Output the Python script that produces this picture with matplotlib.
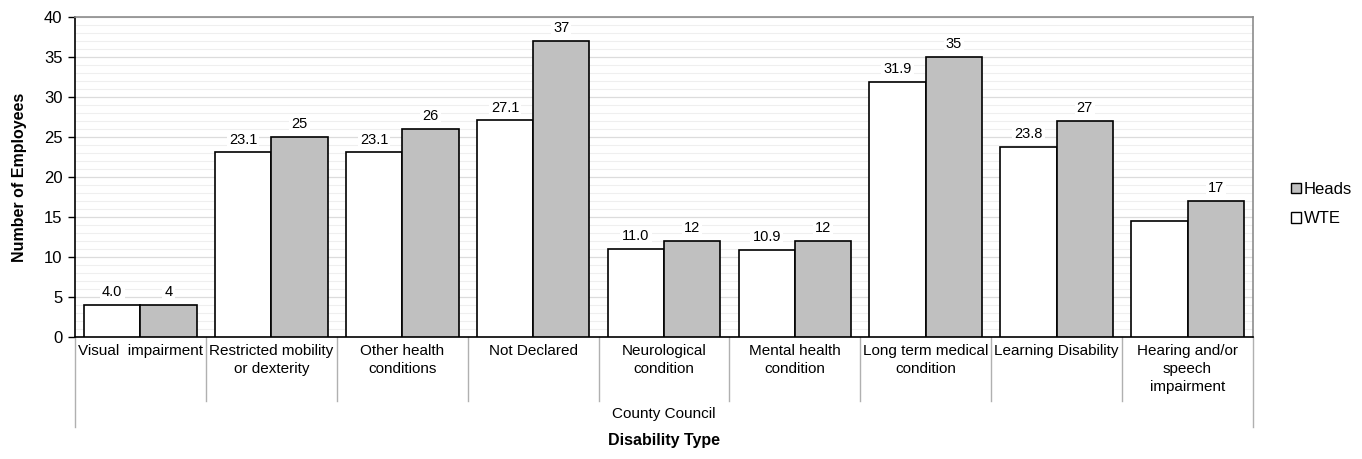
import matplotlib.pyplot as plt
import numpy as np
from matplotlib.lines import Line2D
from matplotlib.patches import Patch

plt.rcParams['font.family'] = ['Liberation Sans', 'DejaVu Sans']

categories = [
    "Visual  impairment",
    "Restricted mobility\nor dexterity",
    "Other health\nconditions",
    "Not Declared",
    "Neurological\ncondition",
    "Mental health\ncondition",
    "Long term medical\ncondition",
    "Learning Disability",
    "Hearing and/or\nspeech\nimpairment",
]
wte = [4.0, 23.1, 23.1, 27.1, 11.0, 10.9, 31.9, 23.8, 14.5]
heads = [4, 25, 26, 37, 12, 12, 35, 27, 17]
# the last WTE bar carries no value label
wte_labels = ["4.0", "23.1", "23.1", "27.1", "11.0", "10.9", "31.9", "23.8", None]
heads_labels = [str(v) for v in heads]
group_label = "County Council"

fig = plt.figure(figsize=(13.62, 4.59), dpi=100)
ax = fig.add_axes([75 / 1362, 1 - 337 / 459, 1178 / 1362, 320 / 459])

n = len(categories)
x = np.arange(n)
w = 0.43

ax.bar(x - w / 2, wte, w, color="white", edgecolor="black", linewidth=1.2, zorder=3)
ax.bar(x + w / 2, heads, w, color="#c0c0c0", edgecolor="black", linewidth=1.2, zorder=3)

box = dict(facecolor="white", edgecolor="none", pad=1.5)
for i in range(n):
    if wte_labels[i] is not None:
        ax.annotate(wte_labels[i], (x[i] - w / 2, wte[i]), xytext=(0, 4),
                    textcoords="offset points", ha="center", va="bottom",
                    fontsize=10.5, bbox=box, zorder=4)
    ax.annotate(heads_labels[i], (x[i] + w / 2, heads[i]), xytext=(0, 4),
                textcoords="offset points", ha="center", va="bottom",
                fontsize=10.5, bbox=box, zorder=4)

ax.set_xlim(-0.5, n - 0.5)
ax.set_ylim(0, 40)
ax.set_yticks(range(0, 41, 5))
ax.set_yticks(range(0, 41, 1), minor=True)
ax.grid(axis="y", which="major", color="#dcdcdc", linewidth=0.9, zorder=0)
ax.grid(axis="y", which="minor", color="#efefef", linewidth=0.8, zorder=0)
ax.tick_params(axis="y", which="major", labelsize=12, length=5, width=1,
               direction="out", pad=4)
ax.tick_params(axis="y", which="minor", length=0)
ax.set_xticks([])

for s in ["left", "bottom"]:
    ax.spines[s].set_color("black")
    ax.spines[s].set_linewidth(1.2)
for s in ["top", "right"]:
    ax.spines[s].set_color("#8c8c8c")
    ax.spines[s].set_linewidth(1.2)

# category labels and separators below the axis
trans = ax.get_xaxis_transform()
for i, name in enumerate(categories):
    ax.text(x[i], -0.022, name, transform=trans, ha="center", va="top",
            fontsize=11, linespacing=1.38)
for b in np.arange(n + 1) - 0.5:
    outer = b in (-0.5, n - 0.5)
    y1 = -0.28 if outer else -0.2
    ax.add_line(Line2D([b, b], [0, y1], transform=trans, color="#b0b0b0",
                       linewidth=1, clip_on=False))
ax.text((n - 1) / 2, -0.24, group_label, transform=trans, ha="center",
        va="center", fontsize=11)

fig.text(ax.get_position().x0 + ax.get_position().width / 2, 1 - 441 / 459,
         "Disability Type", ha="center", va="center", fontsize=11.5, fontweight="bold")
ax.set_ylabel("Number of Employees", fontsize=11.5, fontweight="bold", labelpad=12)

handles = [Patch(facecolor="#c0c0c0", edgecolor="black", label="Heads"),
           Patch(facecolor="white", edgecolor="black", label="WTE")]
fig.legend(handles=handles, loc="center left", bbox_to_anchor=(1276 / 1362, 1 - 204 / 459),
           frameon=False, fontsize=12, handlelength=0.6, handleheight=0.6,
           handletextpad=0.15, labelspacing=0.85)

fig.savefig("out.png", dpi=100)
